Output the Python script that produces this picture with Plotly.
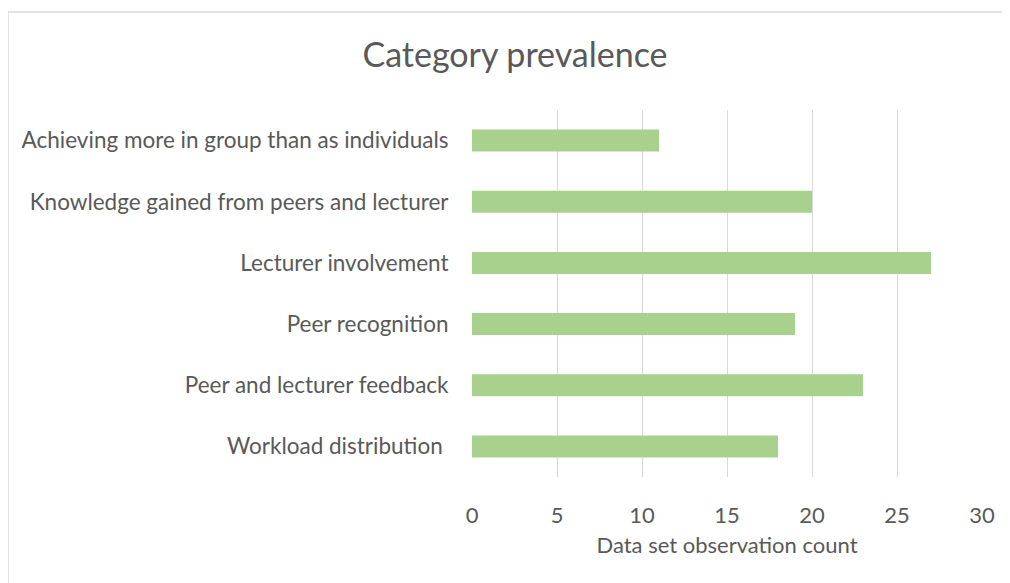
import plotly.graph_objects as go

categories = [
    "Workload distribution\u00a0",
    "Peer and lecturer feedback",
    "Peer recognition",
    "Lecturer involvement",
    "Knowledge gained from peers and lecturer",
    "Achieving more in group than as individuals",
]
counts = [18, 23, 19, 27, 20, 11]
x_ticks = [0, 5, 10, 15, 20, 25, 30]

FONT = "Lato"
GREY = "#595959"

fig = go.Figure(
    go.Bar(
        y=categories,
        x=counts,
        orientation="h",
        marker=dict(color="#A9D18E", line=dict(width=0)),
        width=0.36,
    )
)

# page body has an 8px margin; figure coordinates = reference - 8
OFF = 8
W, H = 1010, 583
L = 472 - OFF
T = 110 - OFF
pw, ph = 510, 367
R = W - L - pw
B = H - T - ph

fig.update_layout(
    width=W,
    height=H,
    margin=dict(l=L, r=R, t=T, b=B, pad=0),
    paper_bgcolor="white",
    plot_bgcolor="white",
    showlegend=False,
    font=dict(family=FONT, color=GREY, size=22),
    title=dict(
        text="Category prevalence",
        x=(515 - OFF) / W,
        xanchor="center",
        y=1 - (55 - OFF) / H,
        yanchor="middle",
        font=dict(family=FONT, size=34, color=GREY),
    ),
    xaxis=dict(
        range=[0, 30],
        tickvals=x_ticks,
        showgrid=True,
        gridcolor="#D9D9D9",
        gridwidth=1.3,
        zeroline=False,
        showline=False,
        ticks="outside",
        ticklen=19,
        tickcolor="rgba(0,0,0,0)",
        tickfont=dict(family=FONT, size=22, color=GREY),
        title=dict(text="Data set observation count", font=dict(family=FONT, size=22, color=GREY), standoff=10),
        fixedrange=True,
    ),
    yaxis=dict(
        showgrid=False,
        zeroline=False,
        showline=False,
        ticks="outside",
        ticklen=18,
        tickcolor="rgba(0,0,0,0)",
        tickfont=dict(family=FONT, size=22.5, color=GREY),
        fixedrange=True,
    ),
    shapes=[
        dict(
            type="rect",
            xref="paper",
            yref="paper",
            x0=(8 - OFF - L) / pw,
            x1=(W + 20 - L) / pw,
            y0=(H - B - (H + 20)) / ph,
            y1=(H - B - (12 - OFF)) / ph,
            line=dict(color="#D9D9D9", width=1.5),
            fillcolor="rgba(0,0,0,0)",
            layer="below",
        )
    ],
)

fig.write_html("out.html")
